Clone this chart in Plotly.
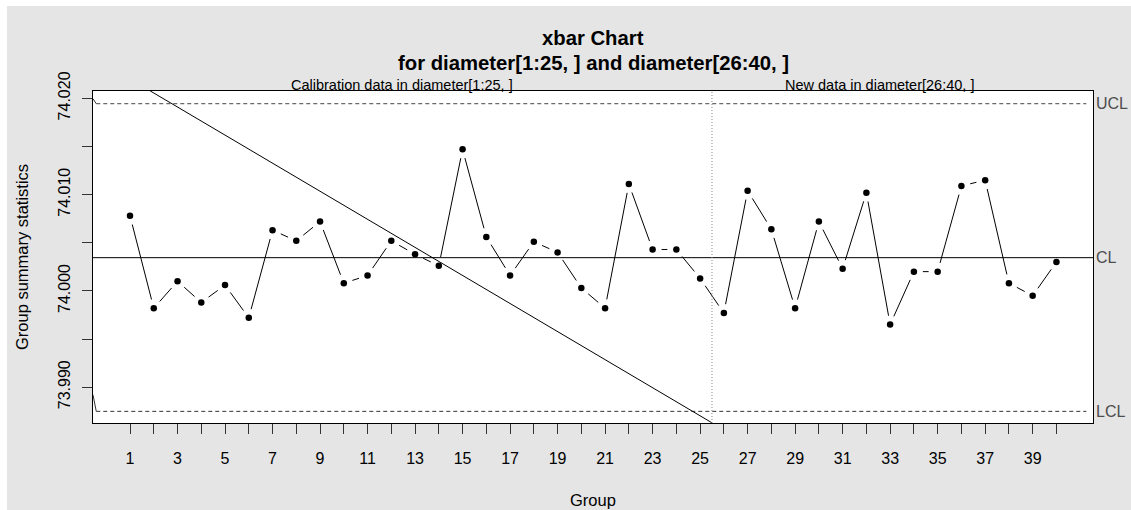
import math
import plotly.graph_objects as go

# ---- data ----
groups = list(range(1, 41))
xbar = [74.0078, 73.9982, 74.0010, 73.9988, 74.0006, 73.9972, 74.0063, 74.0052, 74.0072, 74.0008,
        74.0016, 74.0052, 74.0038, 74.0026, 74.0147, 74.0056, 74.0016, 74.0051, 74.0040, 74.0003,
        73.9982, 74.0111, 74.0043, 74.0043, 74.0013, 73.9977, 74.0104, 74.0064, 73.9982, 74.0072,
        74.0023, 74.0102, 73.9965, 74.0020, 74.0020, 74.0109, 74.0115, 74.0008, 73.9995, 74.0030]
CL = 74.00345
UCL = 74.01944
LCL = 73.98749
split_at = 25.5
x_tick_vals = list(range(1, 41))
x_tick_text = [str(v) if v % 2 == 1 else "" for v in x_tick_vals]
y_tick_vals = [73.990, 73.995, 74.000, 74.005, 74.010, 74.015, 74.020]
y_tick_text = ["73.990", "", "74.000", "", "74.010", "", "74.020"]
diag_x = [1.83, 25.5]
diag_y = [74.0208, 73.9863]
limit_x = [-0.42, 41.26]
lead_x = [-0.56, -0.42]
lead_ucl_y = [74.01996, UCL]
lead_lcl_y = [73.98922, LCL]

# ---- geometry ----
W, H = 1131, 510
ML, MR, MT, MB = 93, 38, 91, 87
PW, PH = W - ML - MR, H - MT - MB
xr = [-0.558, 41.54]
yr = [73.98628, 74.02076]
sx = PW / (xr[1] - xr[0])
sy = PH / (yr[1] - yr[0])
FONT = "Liberation Sans, Arial, sans-serif"

# R type="b" line segments with gaps around points
gap = 9.0
seg_x, seg_y = [], []
for i in range(len(groups) - 1):
    x0, y0, x1, y1 = groups[i], xbar[i], groups[i + 1], xbar[i + 1]
    dxp, dyp = (x1 - x0) * sx, (y1 - y0) * sy
    d = math.hypot(dxp, dyp)
    if d > 2 * gap:
        f = gap / d
        seg_x += [x0 + (x1 - x0) * f, x1 - (x1 - x0) * f, None]
        seg_y += [y0 + (y1 - y0) * f, y1 - (y1 - y0) * f, None]

fig = go.Figure()
fig.add_trace(go.Scatter(x=[xr[0], xr[1]], y=[CL, CL], mode="lines",
                         line=dict(color="black", width=1), hoverinfo="skip"))
fig.add_trace(go.Scatter(x=limit_x, y=[UCL, UCL], mode="lines",
                         line=dict(color="#444444", width=1, dash="4px,3px"), hoverinfo="skip"))
fig.add_trace(go.Scatter(x=limit_x, y=[LCL, LCL], mode="lines",
                         line=dict(color="#333333", width=1, dash="4px,3px"), hoverinfo="skip"))
fig.add_trace(go.Scatter(x=lead_x, y=lead_ucl_y, mode="lines",
                         line=dict(color="#333333", width=1), hoverinfo="skip"))
fig.add_trace(go.Scatter(x=lead_x, y=lead_lcl_y, mode="lines",
                         line=dict(color="#333333", width=1), hoverinfo="skip"))
fig.add_trace(go.Scatter(x=diag_x, y=diag_y, mode="lines",
                         line=dict(color="black", width=1), hoverinfo="skip"))
fig.add_trace(go.Scatter(x=seg_x, y=seg_y, mode="lines",
                         line=dict(color="black", width=1), hoverinfo="skip"))
fig.add_trace(go.Scatter(x=groups, y=xbar, mode="markers",
                         marker=dict(color="black", size=6.5)))

fig.add_shape(type="line", xref="x", yref="paper", x0=split_at, x1=split_at, y0=0, y1=1,
              line=dict(color="#888888", width=1, dash="1px,2px"))
# white strips on top/left edges
fig.add_shape(type="rect", xref="paper", yref="paper", x0=-ML / PW - 0.01, x1=(7 - ML) / PW,
              y0=-0.5, y1=1.5, fillcolor="white", line=dict(width=0), layer="below")
fig.add_shape(type="rect", xref="paper", yref="paper", x0=-0.2, x1=1.2,
              y0=(H - MB - 6) / PH, y1=1.5, fillcolor="white", line=dict(width=0), layer="below")

def py(px_y):
    return (H - MB - px_y) / PH

anns = [
    dict(text="<b>xbar Chart</b>", x=0.5, xref="paper", y=py(38), size=20.3, color="black"),
    dict(text="<b>for diameter[1:25, ] and diameter[26:40, ]</b>", x=0.5, xref="paper", y=py(63), size=20.3, color="black"),
    dict(text="Calibration data in diameter[1:25, ]", x=(xr[0] + split_at) / 2, xref="x", y=py(85), size=14.5, color="black"),
    dict(text="New data in diameter[26:40, ]", x=32.55, xref="x", y=py(85), size=14.5, color="black"),
    dict(text="Group", x=0.5, xref="paper", y=py(500), size=16.5, color="black"),
]
for a in anns:
    fig.add_annotation(text=a["text"], x=a["x"], xref=a["xref"], y=a["y"], yref="paper",
                       showarrow=False, xanchor="center", yanchor="middle",
                       font=dict(family=FONT, size=a["size"], color=a["color"]))
fig.add_annotation(text="Group summary statistics", x=(22 - ML) / PW, xref="paper", y=0.5, yref="paper",
                   showarrow=False, textangle=-90, xanchor="center", yanchor="middle",
                   font=dict(family=FONT, size=16.5, color="black"))
for lab, val in [("UCL", UCL), ("CL", CL), ("LCL", LCL)]:
    fig.add_annotation(text=lab, x=1.0, xref="paper", y=val, yref="y", showarrow=False,
                       xanchor="left", yanchor="middle", xshift=1,
                       font=dict(family=FONT, size=16, color="#4d4d4d"))

fig.update_layout(
    width=W, height=H, margin=dict(l=ML, r=MR, t=MT, b=MB, autoexpand=False),
    paper_bgcolor="#e5e5e5", plot_bgcolor="white", showlegend=False,
    font=dict(family=FONT, size=16, color="black"),
)
fig.update_xaxes(range=xr, tickvals=x_tick_vals, ticktext=x_tick_text, ticks="outside", ticklen=10,
                 tickcolor="#333333", showline=True, linecolor="black", linewidth=1, mirror=True,
                 showgrid=False, zeroline=False, tickangle=0, ticklabelstandoff=11,
                 tickfont=dict(family=FONT, size=16, color="black"))
fig.update_yaxes(range=yr, tickvals=y_tick_vals, ticktext=y_tick_text, ticks="outside", ticklen=10,
                 tickcolor="#333333", showline=True, linecolor="black", linewidth=1, mirror=True,
                 showgrid=False, zeroline=False, tickangle=-90, ticklabelstandoff=6,
                 tickfont=dict(family=FONT, size=16, color="black"))

fig.write_html("out.html", config={"displayModeBar": False},
               post_script="document.body.style.margin='0';document.body.style.overflow='hidden';")
